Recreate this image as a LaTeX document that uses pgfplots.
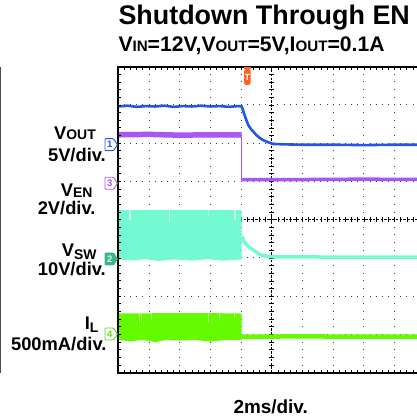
\documentclass[border=0pt]{standalone}
\usepackage{fontspec}
\setmainfont{Liberation Sans}
\usepackage{pgfplots}
\pgfplotsset{compat=1.18}
\definecolor{vout}{RGB}{35,85,235}
\definecolor{ven}{RGB}{170,85,245}
\definecolor{vsw}{RGB}{115,250,210}
\definecolor{vswl}{RGB}{190,252,235}
\definecolor{vswm}{RGB}{60,180,145}
\definecolor{il}{RGB}{100,250,0}
\definecolor{ill}{RGB}{185,252,140}
\definecolor{ilm}{RGB}{95,215,20}
\definecolor{trig}{RGB}{255,95,35}
\newcommand\lab{\fontsize{18.4}{20}\selectfont\bfseries}
\begin{document}
\begin{tikzpicture}
\useasboundingbox (0,0) rectangle (417bp,420bp);
\begin{scope}
\clip (0,0) rectangle (417bp,420bp);
\fill[black!70] (0,47.3bp) rectangle (1.4bp,353.3bp);
% grid
\begin{scope}[shift={(118.3bp,47.3bp)},x=30.7bp,y=38.25bp]
  \foreach \i in {1,2,3,4,6,7,8,9}
    \draw[black!75, line width=1bp, dash pattern=on 1bp off 6.65bp, dash phase=0.5bp] (\i,0) -- (\i,8);
  \foreach \j in {1,2,3,5,6,7}
    \draw[black!75, line width=1bp, dash pattern=on 1bp off 5.14bp, dash phase=0.5bp] (0,\j) -- (10,\j);
  \draw[black, line width=0.9bp, dash pattern=on 2.5bp off 1.3bp] (5,0) -- (5,8);
  \draw[black, line width=0.9bp, dash pattern=on 2.5bp off 1.3bp] (0,4) -- (10,4);
  \foreach \k in {0,...,40}
    \draw[black, line width=0.7bp] ([xshift=-2.5bp]5,\k/5) -- ([xshift=2.5bp]5,\k/5);
  \foreach \k in {0,...,50}
    \draw[black, line width=0.7bp] ([yshift=-2.5bp]\k/5,4) -- ([yshift=2.5bp]\k/5,4);
\end{scope}
\begin{axis}[at={(118.3bp,47.3bp)}, anchor=south west, scale only axis,
  width=307bp, height=306bp, xmin=0, xmax=10, ymin=0, ymax=8, hide axis]
% VSW band
\addplot[draw=none, fill=vsw] coordinates {
 (0,2.96) (0.5,2.93) (0.9,2.97) (1.3,2.92) (1.8,2.96) (2.4,2.93) (2.9,2.97) (3.4,2.93) (4.02,2.96)
 (4.02,4.25) (2.5,4.26) (0,4.25) (0,2.96)};
\addplot[vswl, line width=1.2bp] coordinates {(0.38,4.25) (0.38,4.0)};
\addplot[vswl, line width=1.2bp] coordinates {(1.66,4.25) (1.66,3.95)};
\addplot[vswl, line width=1.0bp] coordinates {(2.95,4.25) (2.95,4.1)};
\addplot[vswl, line width=1.2bp] coordinates {(3.80,4.25) (3.80,3.98)};
\addplot[vsw, line width=3.5bp] coordinates {
 (4.02,3.56) (4.1,3.44) (4.18,3.34) (4.28,3.27) (4.40,3.21) (4.55,3.12) (4.72,3.06) (4.88,3.04) (5.05,3.03)
 (6,3.03) (7,3.02) (8,3.02) (9,3.02) (10,3.02)};
% IL band
\addplot[draw=none, fill=il] coordinates {
 (0,0.86) (0.4,0.82) (0.8,0.86) (1.2,0.8) (1.6,0.86) (2.0,0.84) (2.5,0.86) (3.0,0.81) (3.5,0.86) (4.02,0.85)
 (4.02,1.55) (2.5,1.56) (0,1.55) (0,0.86)};
\addplot[ill, line width=1.2bp] coordinates {(0.70,1.55) (0.70,1.3)};
\addplot[ill, line width=1.0bp] coordinates {(0.76,1.55) (0.76,1.35)};
\addplot[ill, line width=1.0bp] coordinates {(1.08,1.55) (1.08,1.38)};
\addplot[ill, line width=1.2bp] coordinates {(2.93,1.55) (2.93,1.3)};
\addplot[ill, line width=1.0bp] coordinates {(3.31,1.55) (3.31,1.38)};
\addplot[ill, line width=1.0bp] coordinates {(3.80,1.55) (3.80,1.4)};
\addplot[il, line width=4.5bp] coordinates {(4.02,0.94) (6,0.95) (8,0.94) (10,0.94)};
% VEN
\addplot[ven, line width=5.5bp] coordinates {(0,6.22) (1,6.23) (2,6.21) (3,6.22) (4.02,6.22)};
\addplot[ven, line width=0.9bp] coordinates {(4.02,6.15) (4.02,5.05)};
\addplot[ven, line width=3.5bp] coordinates {(4.02,5.05) (6,5.05) (8,5.06) (10,5.05)};
% VOUT
\addplot[vout, line width=2.6bp] coordinates {
 (0,6.96) (0.3,6.98) (0.6,6.95) (0.9,6.97) (1.2,6.96) (1.5,6.98) (1.8,6.95) (2.1,6.97) (2.4,6.96)
 (2.7,6.98) (3.0,6.96) (3.3,6.97) (3.6,6.95) (3.9,6.97) (4.02,6.96)
 (4.08,6.82) (4.15,6.65) (4.23,6.48) (4.31,6.38) (4.40,6.30) (4.5,6.21) (4.62,6.13) (4.72,6.08)
 (4.83,6.04) (5.05,5.98) (5.4,5.97) (6,5.96) (7,5.96) (8,5.95) (9,5.96) (10,5.96)};
\end{axis}
% border and ticks
\begin{scope}[shift={(118.3bp,47.3bp)},x=30.7bp,y=38.25bp]
  \draw[black, line width=2bp] (10.3,8) -- (0,8) -- (0,0) -- (10.3,0);
  \foreach \k in {1,...,39} \draw[black, line width=0.8bp] (0,\k/5) -- ++(3bp,0);
  \foreach \k in {1,...,50} {
    \draw[black, line width=0.8bp] (\k/5,8) -- ++(0,-3bp);
    \draw[black, line width=0.8bp] (\k/5,0) -- ++(0,3bp);}
\end{scope}
% trigger
\fill[trig] (244.2bp,353bp) rectangle (251.2bp,350.5bp);
\fill[trig, rounded corners=2.2bp] (244.2bp,351bp) rectangle (250.6bp,335bp);
\node[text=white, inner sep=0, font=\fontsize{9}{9}\selectfont\bfseries] at (247.4bp,343bp) {T};
% channel markers
\draw[vout, line width=0.9bp, fill=white, rounded corners=0.8bp]
  (105bp,269.3bp) -- (113.5bp,269.3bp) -- (117.5bp,275.3bp) -- (113.5bp,281.3bp) -- (105bp,281.3bp) -- cycle;
\node[text=vout, inner sep=0, font=\fontsize{9.5}{9}\selectfont\bfseries] at (109.7bp,275.3bp) {1};
\draw[ven, line width=0.9bp, fill=white, rounded corners=0.8bp]
  (105bp,230.7bp) -- (113.5bp,230.7bp) -- (117.5bp,236.7bp) -- (113.5bp,242.7bp) -- (105bp,242.7bp) -- cycle;
\node[text=ven, inner sep=0, font=\fontsize{9.5}{9}\selectfont\bfseries] at (109.7bp,236.7bp) {3};
\draw[vswm, line width=0.9bp, fill=vswm, rounded corners=0.8bp]
  (105bp,155bp) -- (113.5bp,155bp) -- (117.5bp,161bp) -- (113.5bp,167bp) -- (105bp,167bp) -- cycle;
\node[text=white!85!vswm, inner sep=0, font=\fontsize{9.5}{9}\selectfont\bfseries] at (109.7bp,161bp) {2};
\draw[ilm, line width=0.9bp, fill=white, rounded corners=0.8bp]
  (105bp,80bp) -- (113.5bp,80bp) -- (117.5bp,86bp) -- (113.5bp,92bp) -- (105bp,92bp) -- cycle;
\node[text=ilm, inner sep=0, font=\fontsize{9.5}{9}\selectfont\bfseries] at (109.7bp,86bp) {4};
% labels
\node[anchor=base east, inner sep=0] at (96bp,280.5bp) {\lab V\fontsize{14}{14}\selectfont OUT};
\node[anchor=base east, inner sep=0] at (106bp,258.3bp) {\lab 5V/div.};
\node[anchor=base east, inner sep=0, align=right, font=\fontsize{18.4}{18.8}\selectfont\bfseries] at (95.7bp,205bp)
  {V\raisebox{-1.3bp}{\fontsize{14}{14}\selectfont EN}\hspace*{3bp}\\2V/div.};
\node[anchor=base east, inner sep=0] at (96.7bp,163.3bp) {\lab V\raisebox{-2.5bp}{\fontsize{14}{14}\selectfont SW}};
\node[anchor=base east, inner sep=0] at (106bp,144bp) {\lab 10V/div.};
\node[anchor=base east, inner sep=0] at (98.7bp,90.7bp) {\lab I\raisebox{-3bp}{\fontsize{14}{14}\selectfont L}};
\node[anchor=base east, inner sep=0] at (106.7bp,69.3bp) {\lab 500mA/div.};
\node[anchor=base west, inner sep=0] at (118.3bp,395bp) {\fontsize{27}{30}\selectfont\bfseries Shutdown Through EN};
\node[anchor=base west, inner sep=0] at (118.3bp,368.3bp) {\fontsize{21.2}{24}\selectfont\bfseries V{\fontsize{15.2}{15}\selectfont IN}=12V,V{\fontsize{15.2}{15}\selectfont OUT}=5V,I{\fontsize{15.2}{15}\selectfont OUT}=0.1A};
\node[anchor=base west, inner sep=0] at (233.3bp,6.7bp) {\fontsize{19}{21}\selectfont\bfseries 2ms/div.};
\end{scope}
\end{tikzpicture}
\end{document}
